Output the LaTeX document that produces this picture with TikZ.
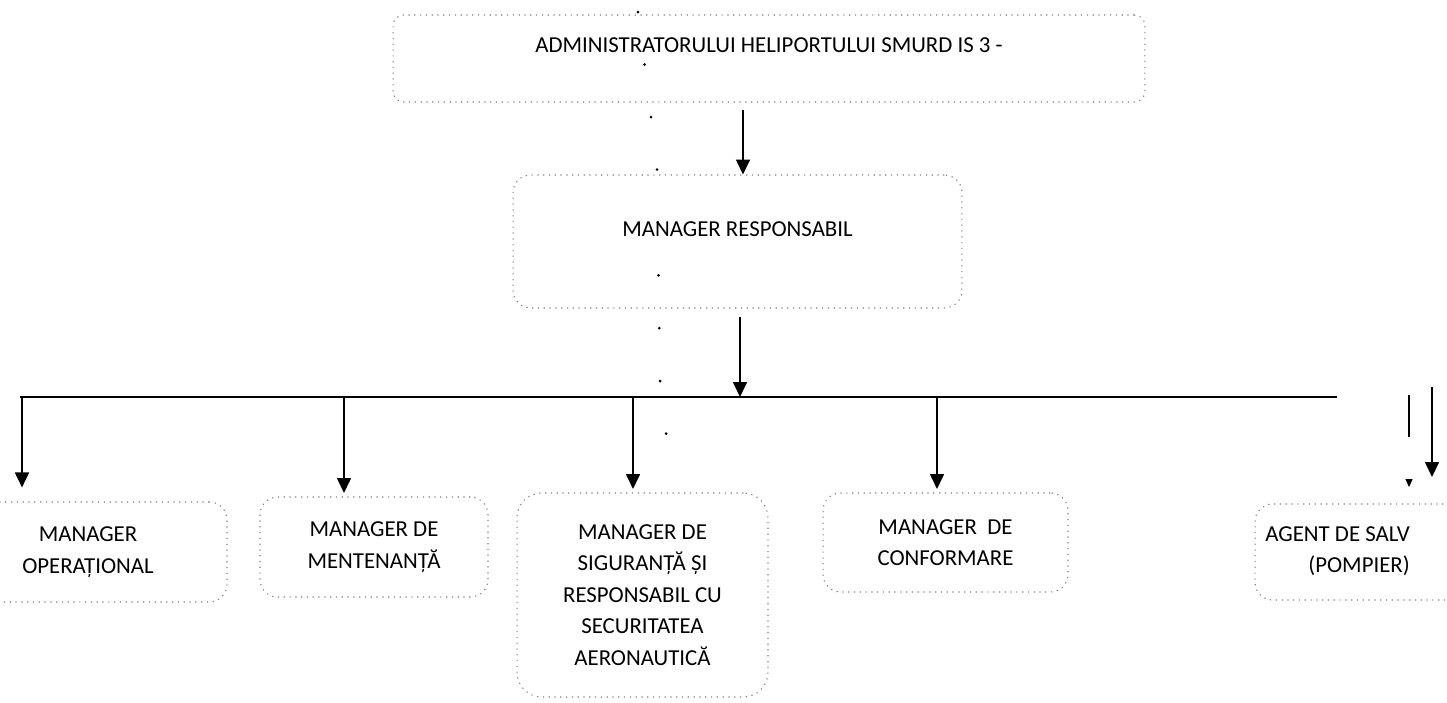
\documentclass[tikz,border=0pt]{standalone}
\usepackage{fontspec}
\setmainfont{Carlito}
\usetikzlibrary{arrows.meta,positioning,calc}
\newcommand{\orgfont}{\fontsize{13pt}{18pt}\selectfont}
\tikzset{
  box/.style={draw=black!50, dash pattern=on 0.7pt off 2.6pt, line width=0.6pt, rounded corners=10pt, align=center, font=\orgfont},
  lbl/.style={align=center, font=\orgfont},
  arr/.style={-{Triangle[width=8pt,length=8.5pt]}, line width=0.75pt},
  bus/.style={line width=1.1pt},
  scan/.style={line width=1.6pt, dash pattern=on 0.1pt off 30pt, line cap=round}
}

\begin{document}
\begin{tikzpicture}[x=0.02cm,y=-0.02cm]
  \useasboundingbox (0,0) rectangle (1447,703);
  \node[box, minimum width=15.04cm, minimum height=1.74cm, rounded corners=6pt, text depth=0.55cm] (adm) at (769,58.5) {ADMINISTRATORULUI HELIPORTULUI SMURD IS 3 -};
  \node[box, minimum width=8.98cm, minimum height=2.66cm, text depth=0.5cm] (mr) at (737.5,241.5) {MANAGER RESPONSABIL};
  \node[box, minimum width=5.56cm, minimum height=2cm] (op) at (88,552) {MANAGER\\OPERAȚIONAL};
  \node[box, minimum width=4.56cm, minimum height=2cm] (mnt) at (374,547) {MANAGER DE\\MENTENANȚĂ};
  \node[box, minimum width=5.02cm, minimum height=4.08cm, rounded corners=14pt] (sig) at (642.5,595) {MANAGER DE\\SIGURANȚĂ ȘI\\RESPONSABIL CU\\SECURITATEA\\AERONAUTICĂ};
  \node[box, minimum width=4.9cm, minimum height=1.98cm] (conf) at (945.5,542.5) {MANAGER~ DE\\CONFORMARE};
  \node[box, minimum width=4.7cm, minimum height=1.92cm] (ag) at (1372.5,552) {};
  \node[lbl, anchor=east, align=right] (agtxt) at (1416,551) {AGENT DE SALV\\(POMPIER)};
  \coordinate (s1) at (638,12);
  \coordinate (s2) at (657,165);
  \coordinate (s3) at (660,380);
  \coordinate (s4) at (670,468);
  \draw[scan] (s1) -- (s2) -- (s3) -- (s4);
  \coordinate (a1) at (743,110);
  \draw[arr] (a1) -- (a1 |- mr.north);
  \coordinate (bl) at (20,397);
  \coordinate (br) at (1337,397);
  \draw[bus] (bl) -- (br);
  \coordinate (a2) at (740,317);
  \draw[arr] (a2) -- (a2 |- bl);
  \coordinate (dop) at (22,397);
  \draw[arr, shorten >=8pt] (dop) -- (dop |- op.north);
  \foreach \x/\n in {344/mnt,633/sig,937/conf}{
    \coordinate (d\n) at (\x,397);
    \draw[arr, shorten >=2pt] (d\n) -- (d\n |- \n.north);
  }
  \coordinate (r1) at (1432,387);
  \coordinate (r1e) at (1432,477);
  \draw[arr] (r1) -- (r1e);
  \coordinate (r2) at (1409,395);
  \coordinate (r2m) at (1409,437);
  \coordinate (r2t) at (1409,487);
  \draw[line width=0.75pt] (r2) -- (r2m);
  \draw[-{Triangle[width=4pt,length=4.5pt]}, line width=0.5pt] ([yshift=0.16cm]r2t) -- (r2t);
\end{tikzpicture}
\end{document}
